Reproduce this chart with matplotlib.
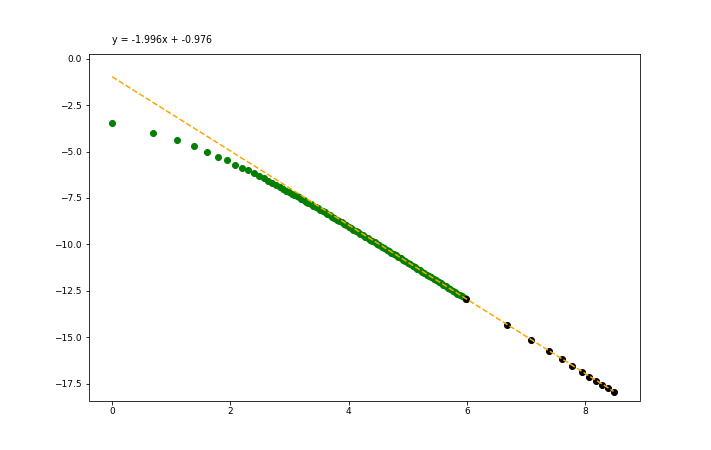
import numpy as np
import matplotlib.pyplot as plt

# green points: first twenty single dots, then the dense band
green_x = [0.0, 0.693, 1.099, 1.386, 1.609, 1.792, 1.946, 2.079, 2.197, 2.303,
           2.398, 2.485, 2.565, 2.639, 2.708, 2.773, 2.833, 2.890, 2.944, 2.996,
           3.04, 3.08, 3.12, 3.16, 3.20, 3.24, 3.28, 3.32, 3.36, 3.40,
           3.44, 3.48, 3.52, 3.56, 3.60, 3.64, 3.68, 3.72, 3.76, 3.80,
           3.84, 3.88, 3.92, 3.96, 4.00, 4.04, 4.08, 4.12, 4.16, 4.20,
           4.24, 4.28, 4.32, 4.36, 4.40, 4.44, 4.48, 4.52, 4.56, 4.60,
           4.64, 4.68, 4.72, 4.76, 4.80, 4.84, 4.88, 4.92, 4.96, 5.00,
           5.04, 5.08, 5.12, 5.16, 5.20, 5.24, 5.28, 5.32, 5.36, 5.40,
           5.44, 5.48, 5.52, 5.56, 5.60, 5.64, 5.68, 5.72, 5.76, 5.80,
           5.84, 5.88, 5.92, 5.96, 5.99]
green_y = [-3.44, -3.98, -4.39, -4.72, -5.00, -5.27, -5.48, -5.70, -5.86, -6.02,
           -6.17, -6.32, -6.45, -6.57, -6.69, -6.80, -6.90, -7.00, -7.10, -7.19,
           -7.26, -7.33, -7.40, -7.47, -7.55, -7.62, -7.69, -7.77, -7.84, -7.91,
           -7.99, -8.06, -8.14, -8.21, -8.28, -8.36, -8.43, -8.51, -8.59, -8.66,
           -8.74, -8.81, -8.89, -8.97, -9.04, -9.12, -9.20, -9.27, -9.35, -9.43,
           -9.50, -9.58, -9.66, -9.74, -9.81, -9.89, -9.97, -10.05, -10.12, -10.20,
           -10.28, -10.36, -10.44, -10.52, -10.59, -10.67, -10.75, -10.83, -10.91, -10.99,
           -11.07, -11.14, -11.22, -11.30, -11.38, -11.46, -11.54, -11.62, -11.70, -11.77,
           -11.85, -11.93, -12.01, -12.09, -12.17, -12.25, -12.33, -12.41, -12.49, -12.57,
           -12.65, -12.72, -12.80, -12.88, -12.95]

black_x = [5.99, 6.68, 7.09, 7.38, 7.60, 7.78, 7.94, 8.07, 8.19, 8.29, 8.39, 8.48]
black_y = [-12.95, -14.33, -15.14, -15.72, -16.16, -16.54, -16.85, -17.12, -17.35, -17.56, -17.75, -17.92]

slope = -1.996
intercept = -0.976

fig, ax = plt.subplots(figsize=(711 / 72, 450 / 72), dpi=72)

ax.scatter(green_x, green_y, color='green')
ax.scatter(black_x, black_y, color='black')

line_x = np.array([min(green_x), max(black_x)])
ax.plot(line_x, slope * line_x + intercept, '--', color='orange')

ax.text(0, 0.86, 'y = %.3fx + %.3f' % (slope, intercept), fontsize=9.5)

ax.set_xlim(-0.393, 8.925)
ax.set_ylim(-18.40, 0.25)
ax.tick_params(labelsize=9)

plt.savefig('out.png', dpi=72)
